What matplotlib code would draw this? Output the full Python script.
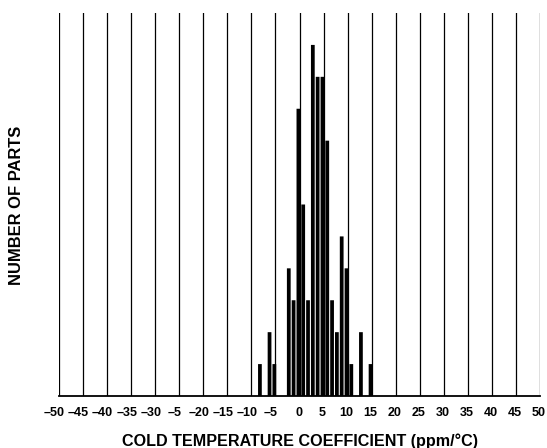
import matplotlib
matplotlib.use("Agg")
import matplotlib.pyplot as plt
import matplotlib.transforms as mtransforms

plt.rcParams['font.family'] = ['Liberation Sans', 'DejaVu Sans']

# Data
coeff_ppm = [-8, -6, -5, -2, -1, 0, 1, 2, 3, 4, 5, 6, 7, 8, 9, 10, 11, 13, 15]
num_parts = [1, 2, 1, 4, 3, 9, 6, 3, 11, 10, 10, 8, 3, 2, 5, 4, 1, 2, 1]
tick_values = list(range(-50, 55, 5))
tick_labels = ['\u201350', '\u201345', '\u201340', '\u201335', '\u201330', '\u20135',
               '\u201320', '\u201315', '\u201310', '\u20135', '0', '5', '10', '15',
               '20', '25', '30', '35', '40', '45', '50']

fig = plt.figure(figsize=(5.47, 4.48), dpi=100)
ax = fig.add_axes([59/547, 52/448, 481/547, 383/448])

bars = ax.bar(coeff_ppm, num_parts, width=0.78, color='black', edgecolor='none', zorder=3)
shift = mtransforms.ScaledTranslation(-1.1 / 100, 0, fig.dpi_scale_trans)
for b in bars:
    b.set_transform(ax.transData + shift)
    b.set_snap(False)

for v in tick_values:
    ax.axvline(v, color='black', linewidth=0.9, zorder=2)

ax.set_xlim(-50, 50)
ax.set_ylim(0, 12)
for s in ['top', 'right', 'left']:
    ax.spines[s].set_visible(False)
ax.spines['bottom'].set_linewidth(1.3)
ax.spines['bottom'].set_zorder(4)
ax.set_xticks([])
ax.set_yticks([])

trans = mtransforms.blended_transform_factory(ax.transData, ax.transAxes)
for v, lab in zip(tick_values, tick_labels):
    dx = -4.5 / 100 if lab.startswith('\u2013') else -1 / 100
    t = trans + mtransforms.ScaledTranslation(dx, 0, fig.dpi_scale_trans)
    ax.text(v, -0.044, lab, transform=t, ha='center', va='center',
            fontsize=9, fontweight='bold', clip_on=False)

fig.text(300/547, 1 - 441/448, 'COLD TEMPERATURE COEFFICIENT (ppm/\u00b0C)',
         ha='center', va='center', fontsize=11.6, fontweight='bold')
fig.text(17/547, 1 - 205/448, 'NUMBER OF PARTS', rotation=90,
         ha='center', va='center', fontsize=11.9, fontweight='bold')

fig.savefig('out.png', dpi=100)
